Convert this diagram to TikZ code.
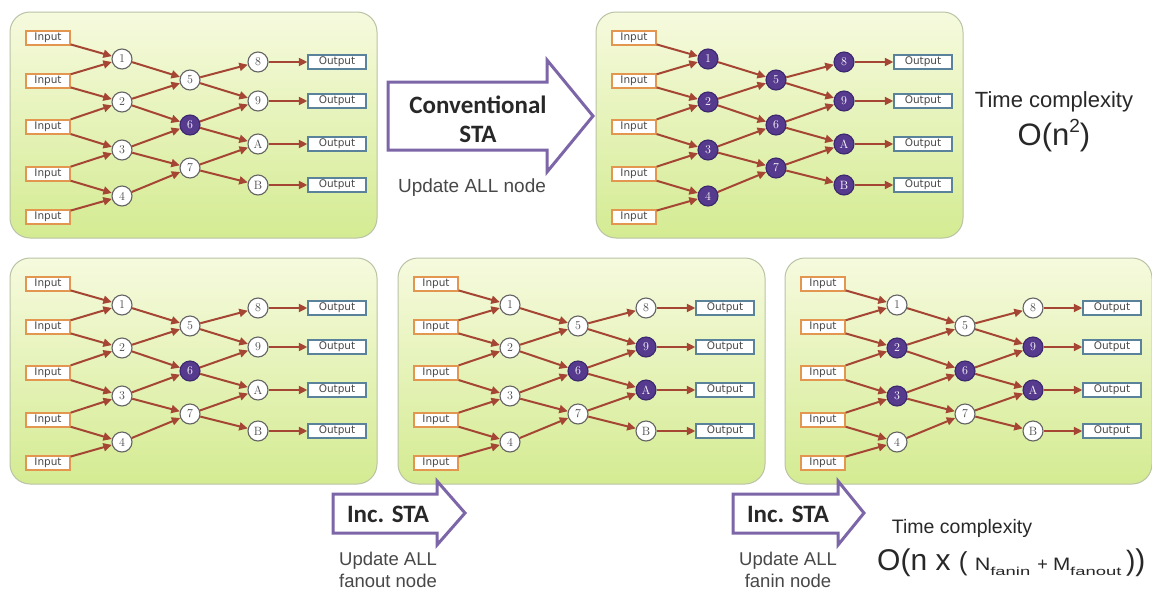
\documentclass[tikz,border=0pt]{standalone}
\usepackage{fontspec}
\usepackage{graphicx}
\usetikzlibrary{arrows.meta}
\newfontfamily\arialf{Liberation Sans}
\newfontfamily\calibf{Carlito}
\newfontfamily\boxf{DejaVu Sans}
\definecolor{edgec}{RGB}{165,70,52}
\definecolor{inc}{RGB}{226,150,80}
\definecolor{outc}{RGB}{90,130,155}
\definecolor{purp}{RGB}{86,58,142}
\definecolor{purpd}{RGB}{60,40,110}
\definecolor{arrc}{RGB}{124,102,168}
\definecolor{paneltop}{RGB}{246,250,222}
\definecolor{panelbot}{RGB}{212,235,146}
\definecolor{panelbd}{RGB}{185,195,165}
\definecolor{circbd}{RGB}{100,100,100}
\definecolor{txtc}{RGB}{40,40,40}
\tikzset{
  panelbox/.style={draw=panelbd, line width=1, rounded corners=20, top color=paneltop, bottom color=panelbot, minimum width=367, minimum height=226, inner sep=0},
  inbox/.style={draw=inc, line width=1.3, fill=white, minimum width=44, minimum height=14, inner sep=0, font=\boxf\fontsize{10.5}{11}\selectfont, text=txtc!85},
  outbox/.style={draw=outc, line width=1.3, fill=white, minimum width=58, minimum height=14, inner sep=0, font=\boxf\fontsize{10.5}{11}\selectfont, text=txtc!85},
  plc/.style={circle, draw=circbd, line width=1.1, fill=white, minimum size=20, inner sep=0, font=\fontsize{12}{12}\selectfont, text=txtc!85},
  hlc/.style={circle, draw=purpd, line width=1.1, fill=purp, minimum size=20, inner sep=0, font=\fontsize{12}{12}\selectfont, text=white},
  edge/.style={draw=edgec, line width=2, -{Triangle[length=8.5,width=8]}},
  bigarrow/.style={draw=arrc, line width=3, fill=white, line join=miter},
  stalabel/.style={font=\calibf\bfseries\fontsize{25}{29}\selectfont, align=center, text=txtc, inner sep=0},
  notelabel/.style={font=\arialf\fontsize{18.5}{22}\selectfont, align=center, text=txtc!85, inner sep=0},
}
\makeatletter
\newcommand\mypanel[4]{%
\begin{scope}[shift={(#1,#2)}]
\node[panelbox] (#3box) at (193.5,125) {};
\foreach \i/\yy in {1/38,2/81,3/127,4/174,5/217}
  \node[inbox] (#3i\i) at (48,\yy) {Input};
\foreach \i/\yy in {1/62,2/101,3/144,4/185}
  \node[outbox] (#3o\i) at (337,\yy) {Output};
\foreach \lab/\xx/\yy in {1/122/59,2/122/102,3/122/150,4/122/196,5/190/80,6/190/125,7/190/168,8/258/62,9/258/101,A/258/144,B/258/185}{%
  \edef\@tmpchk{\noexpand\in@{,\lab,}{,#4,}}\@tmpchk
  \ifin@\def\cst{hlc}\else\def\cst{plc}\fi
  \node[\cst] (#3c\lab) at (\xx,\yy) {\lab};}
\foreach \a/\b in {i1/c1,i2/c1,i2/c2,i3/c2,i3/c3,i4/c3,i4/c4,i5/c4,c1/c5,c2/c5,c2/c6,c3/c6,c3/c7,c4/c7,c5/c8,c5/c9,c6/c9,c6/cA,c7/cA,c7/cB,c8/o1,c9/o2,cA/o3,cB/o4}
  \draw[edge] (#3\a) -- (#3\b);
\end{scope}}
\makeatother
\begin{document}
\begin{tikzpicture}[x=1pt,y=-1pt]
\useasboundingbox[fill=white] (0,0) rectangle (1152,590);
% panels
\mypanel{0}{0}{pa}{6}
\mypanel{586}{0}{pb}{1,2,3,4,5,6,7,8,9,A,B}
\mypanel{0}{246}{pc}{6}
\mypanel{388}{246}{pd}{6,9,A}
\mypanel{775}{246}{pe}{2,3,6,9,A}
% conventional STA arrow
\draw[bigarrow] (388,82) -- (547,82) -- (547,60) -- (593,116) -- (547,172) -- (547,150) -- (388,150) -- cycle;
\node[stalabel] (conv) at (478,119) {Conventional\\STA};
\node[notelabel, font=\arialf\fontsize{19}{22}\selectfont] (updall) at (472,188) {Update ALL node};
\node[font=\arialf\fontsize{22}{24}\selectfont, text=txtc, inner sep=0] (tc1) at (1054,102) {Time complexity};
\node[font=\arialf\fontsize{31}{32}\selectfont, text=txtc, inner sep=0] (on2) at (1054,136) {O(n\raisebox{0.42em}{\fontsize{19}{19}\selectfont 2})};
% Inc STA arrow 1
\draw[bigarrow] (333,494) -- (437,494) -- (437,481) -- (465,513) -- (437,545) -- (437,533) -- (333,533) -- cycle;
\node[stalabel] (inc1) at (388,514) {Inc. STA};
\node[notelabel] (upd1) at (388,570) {Update ALL\\fanout node};
% Inc STA arrow 2
\draw[bigarrow] (733,494) -- (838,494) -- (838,481) -- (864,513) -- (838,545) -- (838,533) -- (733,533) -- cycle;
\node[stalabel] (inc2) at (788,514) {Inc. STA};
\node[notelabel] (upd2) at (788,570) {Update ALL\\fanin node};
% bottom complexity
\node[font=\arialf\fontsize{19.5}{22}\selectfont, text=txtc, inner sep=0] (tc2) at (962,528) {Time complexity};
\node[anchor=west, font=\arialf, text=txtc, inner sep=0] (onm) at (877,563) {\fontsize{30}{30}\selectfont O(n x \fontsize{26}{26}\selectfont( \scalebox{1.2}[1]{\fontsize{18}{18}\selectfont N}\scalebox{1.6}[1]{\fontsize{11.5}{11.5}\selectfont\raisebox{-0.4em}{fanin}} \fontsize{18}{18}\selectfont+ \scalebox{1.15}[1]{M}\scalebox{1.6}[1]{\fontsize{11.5}{11.5}\selectfont\raisebox{-0.4em}{fanout}}\fontsize{28}{28}\selectfont\,)\fontsize{30}{30}\selectfont)};
\end{tikzpicture}
\end{document}
